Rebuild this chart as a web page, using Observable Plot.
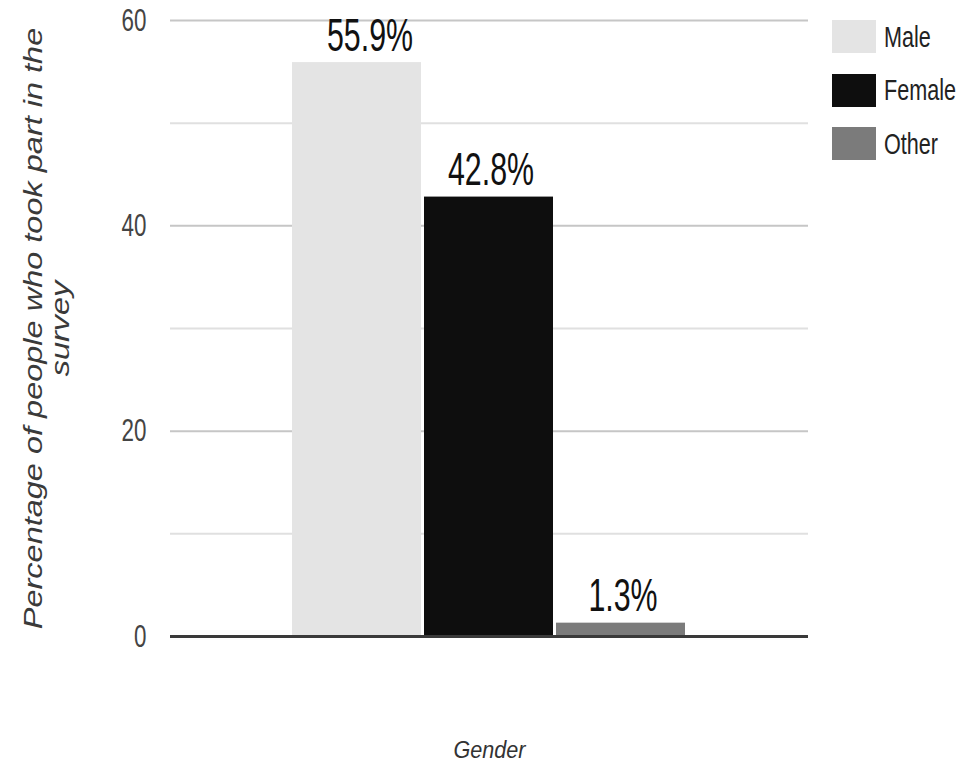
<!DOCTYPE html>
<html><head><meta charset="utf-8">
<script src="https://cdn.jsdelivr.net/npm/d3@7"></script>
<script src="https://cdn.jsdelivr.net/npm/@observablehq/plot@0.6"></script>
<style>
body{margin:0;background:#fff;font-family:"Liberation Sans",Arial,sans-serif;}
#wrap{position:relative;width:960px;height:773px;}
#legend{position:absolute;left:832px;top:20px;}
.item{position:absolute;left:0;height:33px;display:flex;align-items:center;white-space:nowrap}
.sw{width:44px;height:33px;flex:none}
.lab{margin-left:8px;font-size:30px;color:#222;transform:scaleX(0.72);transform-origin:left center;}
</style></head><body><div id="wrap"></div>
<script>
const categories = ["Male", "Female", "Other"];
const values = [55.9, 42.8, 1.3];
const yTicks = [0, 20, 40, 60];
const yMajorGrid = [20, 40, 60];
const yMinorGrid = [10, 30, 50];
const yLabelLine1 = ["Percentage of people who took part in the"];
const yLabelLine2 = ["survey"];
const xLabel = ["Gender"];
const colors = ["#e4e4e4", "#0e0e0e", "#7b7b7b"];

const data = categories.map((c, i) => ({category: c, value: values[i]}));
const fmt = v => v.toFixed(1) + "%";
const labelStyle = {x: "category", y: "value", text: d => fmt(d.value), dy: -12, lineAnchor: "bottom", fontSize: 46, fill: "#111"};

const chart = Plot.plot({
  width: 960,
  height: 773,
  marginLeft: 170,
  marginRight: 152,
  marginTop: 20,
  marginBottom: 137,
  style: {fontFamily: '"Liberation Sans", Arial, sans-serif', background: "#fff"},
  x: {domain: categories, paddingInner: 0.022, paddingOuter: 0.91, axis: null},
  y: {domain: [0, 60], ticks: yTicks},
  color: {domain: categories, range: colors},
  marks: [
    Plot.ruleY(yMinorGrid, {stroke: "#e0e0e0", strokeWidth: 2}),
    Plot.ruleY(yMajorGrid, {stroke: "#c6c6c6", strokeWidth: 2}),
    Plot.barY(data, {x: "category", y: "value", fill: "category"}),
    Plot.ruleY([0], {stroke: "#3a3a3a", strokeWidth: 3}),
    Plot.axisY({ticks: yTicks, tickSize: 0, tickPadding: 24, fontSize: 32, color: "#444", label: null}),
    Plot.text(data, {...labelStyle, filter: d => d.category === "Male", dx: 13}),
    Plot.text(data, {...labelStyle, filter: d => d.category !== "Male", dx: 2}),
    Plot.text(yLabelLine1, {text: d => d, frameAnchor: "left", textAnchor: "middle", rotate: -90, dx: -137, fontSize: 25, fontStyle: "italic", fill: "#3a3a3a"}),
    Plot.text(yLabelLine2, {text: d => d, frameAnchor: "left", textAnchor: "middle", rotate: -90, dx: -110, fontSize: 25, fontStyle: "italic", fill: "#3a3a3a"}),
    Plot.text(xLabel, {text: d => d, frameAnchor: "bottom", dy: 121, fontSize: 24, fontStyle: "italic", fill: "#333"})
  ]
});

const wrap = document.getElementById("wrap");
wrap.appendChild(chart);

// horizontally condense (or stretch) text glyphs around each text's anchor point
function squeezeEl(t, k) {
  const x = parseFloat(t.getAttribute("x")) || 0;
  const y = parseFloat(t.getAttribute("y")) || 0;
  const T = t.getAttribute("transform") || "";
  t.setAttribute("transform", `${T} translate(${x},${y}) scale(${k},1) translate(${-x},${-y})`);
}
const valueTexts = new Set(values.map(fmt));
const tickTexts = new Set(yTicks.map(String));
const ylabTexts = new Set([...yLabelLine1, ...yLabelLine2]);
const xlabTexts = new Set(xLabel);
chart.querySelectorAll("text").forEach(t => {
  const s = t.textContent.trim();
  if (valueTexts.has(s)) squeezeEl(t, 0.66);
  else if (tickTexts.has(s)) squeezeEl(t, 0.7);
  else if (ylabTexts.has(s)) squeezeEl(t, 1.3);
  else if (xlabTexts.has(s)) squeezeEl(t, 0.9);
});

const legend = d3.select(wrap).append("div").attr("id", "legend");
categories.forEach((c, i) => {
  const it = legend.append("div").attr("class", "item").style("top", (i * 53.5) + "px");
  it.append("div").attr("class", "sw").style("background", colors[i]);
  it.append("span").attr("class", "lab").text(c);
});
</script></body></html>
